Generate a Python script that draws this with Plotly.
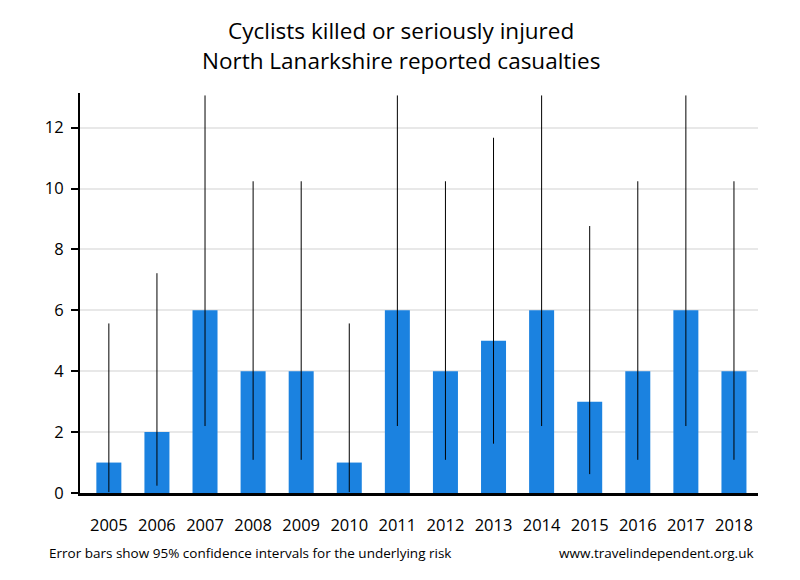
import plotly.graph_objects as go

years = ["2005", "2006", "2007", "2008", "2009", "2010", "2011",
         "2012", "2013", "2014", "2015", "2016", "2017", "2018"]
casualties = [1, 2, 6, 4, 4, 1, 6, 4, 5, 6, 3, 4, 6, 4]
ci_lower = [0.03, 0.24, 2.20, 1.09, 1.09, 0.03, 2.20,
            1.09, 1.62, 2.20, 0.62, 1.09, 2.20, 1.09]
ci_upper = [5.57, 7.22, 13.06, 10.24, 10.24, 5.57, 13.06,
            10.24, 11.67, 13.06, 8.77, 10.24, 13.06, 10.24]
y_ticks = [0, 2, 4, 6, 8, 10, 12]

err_plus = [u - v for u, v in zip(ci_upper, casualties)]
err_minus = [v - l for v, l in zip(casualties, ci_lower)]

FONT = "Open Sans"
OFF = 8  # page body margin offset
W, H = 800 - OFF, 580 - OFF
L, R, T, B = 80 - OFF, 42, 93 - OFF, 87

fig = go.Figure()
fig.add_trace(go.Bar(
    x=list(range(len(years))),
    y=casualties,
    marker=dict(color="#1b82e0", line=dict(width=0)),
    width=0.52,
    error_y=dict(type="data", symmetric=False, array=err_plus,
                 arrayminus=err_minus, color="black", thickness=1, width=0),
    hoverinfo="skip",
))

fig.update_layout(
    width=W, height=H,
    margin=dict(l=L, r=R, t=T, b=B),
    paper_bgcolor="white", plot_bgcolor="white",
    showlegend=False,
    font=dict(family=FONT, color="black", size=16),
    xaxis=dict(
        tickmode="array", tickvals=list(range(len(years))), ticktext=years,
        range=[-0.6, 13.5], showgrid=False, zeroline=False,
        showline=True, linecolor="black", linewidth=3,
        ticks="", ticklabelstandoff=15,
        tickfont=dict(family=FONT, size=16.5, color="black"),
    ),
    yaxis=dict(
        range=[0, 13.14], tickmode="array", tickvals=y_ticks,
        showgrid=True, gridcolor="#e8e8e8", gridwidth=2,
        zeroline=False, showline=True, linecolor="black", linewidth=2,
        ticks="outside", ticklen=7, tickwidth=2, tickcolor="black",
        ticklabelstandoff=4,
        tickfont=dict(family=FONT, size=16.5, color="black"),
    ),
)

pw, ph = W - L - R, H - T - B


def ann(text, sx, sy, size, anchor="center"):
    # sx, sy: screen pixel positions in the 800x580 window
    fig.add_annotation(
        text=text, x=(sx - OFF - L) / pw, y=(H - B - (sy - OFF)) / ph,
        xref="paper", yref="paper", showarrow=False,
        xanchor=anchor, yanchor="middle",
        font=dict(family=FONT, size=size, color="black"))


ann("Cyclists killed or seriously injured", 401, 30, 22.5)
ann("North Lanarkshire reported casualties", 401, 61, 22.5)
ann("Error bars show 95% confidence intervals for the underlying risk",
    47, 553, 13.5, "left")
ann("www.travelindependent.org.uk", 756, 553, 13.5, "right")

fig.write_html("out.html")
